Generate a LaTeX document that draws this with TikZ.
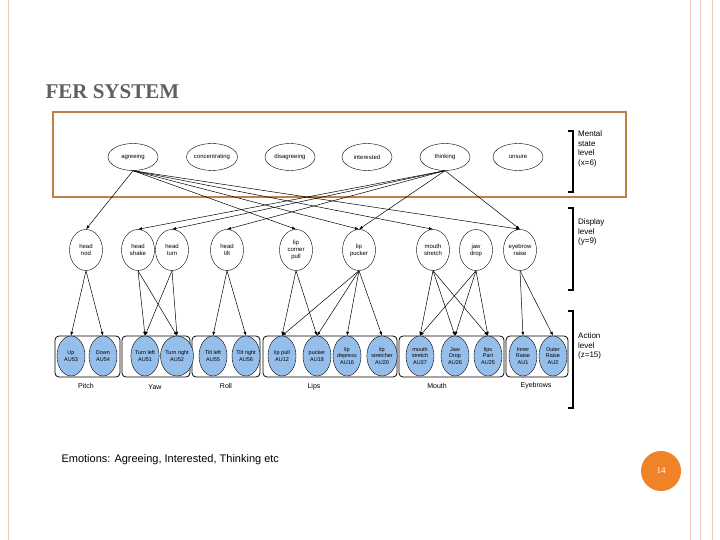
\documentclass[tikz,border=0pt]{standalone}
\usepackage{fontspec}
\setmainfont{Liberation Serif}
\newfontfamily\sans{Liberation Sans}
\usetikzlibrary{arrows.meta,shapes.geometric}
\definecolor{pinkb}{RGB}{240,200,190}
\definecolor{orng}{RGB}{190,130,70}
\definecolor{aublue}{RGB}{150,190,235}
\definecolor{badge}{RGB}{240,130,40}
\begin{document}
\begin{tikzpicture}[x=1pt,y=-1pt,
 ms/.style={draw,ellipse,minimum width=50,minimum height=27,inner sep=0,font=\sans\fontsize{6}{6}\selectfont},
 ds/.style={draw,ellipse,minimum width=33,minimum height=41,inner sep=0,align=center,font=\sans\fontsize{6}{7}\selectfont},
 au/.style={draw,ellipse,fill=aublue,minimum width=28,minimum height=40,inner sep=0,align=center,font=\sans\fontsize{5.5}{6.5}\selectfont},
 grp/.style={draw,rounded corners=4,thick},
 lab/.style={font=\sans\fontsize{7}{8}\selectfont},
 side/.style={font=\sans\fontsize{8}{9.5}\selectfont,align=left,anchor=north west,inner sep=0},
 ar/.style={-{Latex[length=4pt,width=3pt]},line width=0.5pt},
 brk/.style={line width=1.6pt}]
\useasboundingbox (0,0) rectangle (720,540);
\fill[white] (0,0) rectangle (720,540);
% slide decorations
\draw[pinkb,line width=1pt] (8,0) -- (8,540);
\draw[pinkb,line width=1pt] (690,0) -- (690,540);
\draw[pinkb,line width=1pt] (700,0) -- (700,540);
\draw[pinkb,line width=1pt] (712,0) -- (712,540);
\node[anchor=west,text=gray!75!black,font=\bfseries\fontsize{21}{23}\selectfont] (title) at (42,92) {FER SYSTEM};
\node[anchor=west,font=\sans\fontsize{11}{13}\selectfont] (foot) at (58,460) {Emotions: Agreeing, Interested, Thinking etc};
\node[circle,fill=badge,minimum size=40,text=white,font=\fontsize{9}{9}\selectfont] (pg) at (661,471) {14};
% frame
\draw[orng,line width=1.5pt] (53,112) rectangle (626,197);
% mental
\node[ms] (m1) at (133,157) {agreeing};
\node[ms] (m2) at (212,157) {concentrating};
\node[ms] (m3) at (290,157) {disagreeing};
\node[ms] (m4) at (367,157) {interested};
\node[ms] (m5) at (445,157) {thinking};
\node[ms] (m6) at (518,157) {unsure};
% display
\node[ds] (d1) at (86,250) {head\\nod};
\node[ds] (d2) at (138,250) {head\\shake};
\node[ds] (d3) at (172,250) {head\\turn};
\node[ds] (d4) at (227,250) {head\\tilt};
\node[ds] (d5) at (296,250) {lip\\corner\\pull};
\node[ds] (d6) at (359,250) {lip\\pucker};
\node[ds] (d7) at (433,250) {mouth\\stretch};
\node[ds] (d8) at (476,250) {jaw\\drop};
\node[ds] (d9) at (520,250) {eyebrow\\raise};
% groups
\draw[grp] (55,336) rectangle (120,377);
\draw[grp] (122,336) rectangle (190,377);
\draw[grp] (192,336) rectangle (260,377);
\draw[grp] (263,336) rectangle (397,377);
\draw[grp] (399,336) rectangle (504,377);
\draw[grp] (506,336) rectangle (568,377);
\node[lab] (g1) at (86,386) {Pitch};
\node[lab] (g2) at (155,387) {Yaw};
\node[lab] (g3) at (226,386) {Roll};
\node[lab] (g4) at (314,387) {Lips};
\node[lab] (g5) at (437,386) {Mouth};
\node[lab] (g6) at (536,386) {Eyebrows};
% action units
\node[au] (a1) at (71,356) {Up\\AU53};
\node[au] (a2) at (103,356) {Down\\AU54};
\node[au] (a3) at (145,356) {Turn left\\AU51};
\node[au] (a4) at (177,356) {Turn right\\AU52};
\node[au] (a5) at (213,356) {Tilt left\\AU55};
\node[au] (a6) at (246,356) {Tilt right\\AU56};
\node[au] (a7) at (282,356) {lip pull\\AU12};
\node[au] (a8) at (317,356) {pucker\\AU18};
\node[au] (a9) at (347,356) {lip\\depress\\AU16};
\node[au] (a10) at (382,356) {lip\\stretcher\\AU20};
\node[au] (a11) at (420,356) {mouth\\stretch\\AU27};
\node[au] (a12) at (455,356) {Jaw\\Drop\\AU26};
\node[au] (a13) at (488,356) {lips\\Part\\AU25};
\node[au] (a14) at (523,356) {Inner\\Raise\\AU1};
\node[au] (a15) at (553,356) {Outer\\Raise\\AU2};
% mental -> display
\foreach \t in {d1,d5,d6,d7,d9} \draw[ar] (m1.south) -- (\t.north);
\foreach \t in {d2,d3,d4,d6,d9} \draw[ar] (m5.south) -- (\t.north);
% display -> action
\foreach \s/\t in {d1/a1,d1/a2,d2/a3,d2/a4,d3/a3,d3/a4,d4/a5,d4/a6,d5/a7,d5/a8,d6/a7,d6/a8,d6/a9,d6/a10,d7/a11,d7/a12,d7/a13,d8/a11,d8/a12,d8/a13,d9/a14,d9/a15}
  \draw[ar] (\s.south) -- (\t.north);
% brackets
\coordinate (b1a) at (568,131); \coordinate (b1b) at (568,192);
\draw[brk] (b1a) -- ++(5,0) |- (b1b);
\coordinate (b2a) at (568,208); \coordinate (b2b) at (568,290);
\draw[brk] (b2a) -- ++(5,0) |- (b2b);
\coordinate (b3a) at (568,311); \coordinate (b3b) at (568,408);
\draw[brk] (b3a) -- ++(5,0) |- (b3b);
\node[side] (t1) at (578,131) {Mental\\state\\level\\(x=6)};
\node[side] (t2) at (578,219) {Display\\level\\(y=9)};
\node[side] (t3) at (578,333) {Action\\level\\(z=15)};
\end{tikzpicture}
\end{document}
